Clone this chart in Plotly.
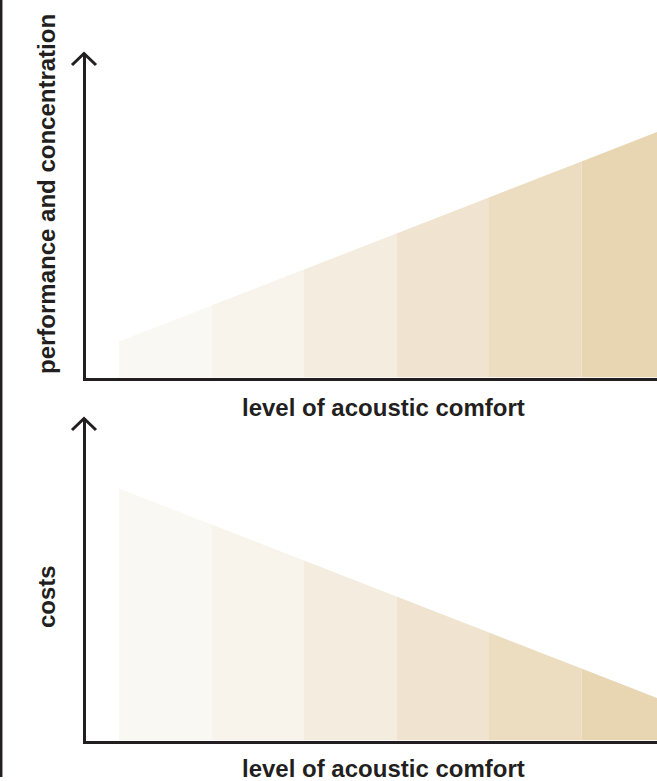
import plotly.graph_objects as go
from plotly.subplots import make_subplots

# ---- data ----
levels = [0, 1, 2, 3, 4, 5, 6]                      # acoustic comfort level boundaries
performance = [1.0, 2.0, 3.0, 4.0, 5.0, 6.0, 7.0]   # performance & concentration at each boundary
costs = [7.0, 6.0, 5.0, 4.0, 3.0, 2.0, 1.0]         # costs at each boundary
shades = ["#FAF8F3", "#F8F4EC", "#F4ECDF", "#F0E4D0", "#ECDDC1", "#E8D6B3"]
x_label = "level of acoustic comfort"
y_label_top = "performance and concentration"
y_label_bottom = "costs"

W, H = 657, 781
INK = "#231F20"
FONT = "Liberation Sans, Arial, sans-serif"

fig = make_subplots(rows=2, cols=1)

def add_segments(values, row):
    for i in range(len(levels) - 1):
        x0, x1 = levels[i], levels[i + 1]
        fig.add_trace(go.Scatter(
            x=[x0, x0, x1, x1, x0],
            y=[0, values[i], values[i + 1], 0, 0],
            mode="lines", fill="toself", fillcolor=shades[i],
            line=dict(width=0, color=shades[i]),
            hoverinfo="skip", showlegend=False), row=row, col=1)

add_segments(performance, 1)
add_segments(costs, 2)

# pixel geometry -> axis ranges
px_unit_x = 92.5
x0_px = 119.0
axis_left_px = 85.5
xmin = (axis_left_px - x0_px) / px_unit_x
xmax = (W - x0_px) / px_unit_x
px_unit_y = 36.0

top_base, top_tip = 377.5, 53.0
bot_base, bot_tip = 740.5, 418.0

def pdom(base, tip):
    return [1 - base / H, 1 - tip / H]

axis_common = dict(showgrid=False, zeroline=False, showticklabels=False, ticks="",
                   showline=True, linecolor=INK, linewidth=3, fixedrange=True)
fig.update_layout(
    xaxis=dict(domain=[axis_left_px / W, 1], range=[xmin, xmax], **axis_common),
    yaxis=dict(domain=pdom(top_base, top_tip), range=[0, (top_base - top_tip) / px_unit_y], **axis_common),
    xaxis2=dict(domain=[axis_left_px / W, 1], range=[xmin, xmax], **axis_common),
    yaxis2=dict(domain=pdom(bot_base, bot_tip), range=[0, (bot_base - bot_tip) / px_unit_y], **axis_common),
)

def px(xp, yp):
    return f"{xp / W:.5f},{1 - yp / H:.5f}"

shapes = []
# arrow heads (pixel geometry converted to paper coords)
for tip in (top_tip, bot_tip):
    cx = 84.0
    path = f"M {px(cx - 12, tip + 12)} L {px(cx, tip + 0.5)} L {px(cx + 12, tip + 12)}"
    shapes.append(dict(type="path", xref="paper", yref="paper", path=path,
                       line=dict(color=INK, width=3)))
# left border line
shapes.append(dict(type="line", xref="paper", yref="paper",
                   x0=1.2 / W, x1=1.2 / W, y0=1 - 777 / H, y1=1,
                   line=dict(color=INK, width=2.5)))

annotations = [
    dict(text=x_label, x=383 / W, y=1 - 407 / H),
    dict(text=x_label, x=383 / W, y=1 - 768 / H),
    dict(text=y_label_top, x=46 / W, y=1 - 194 / H, textangle=-90),
    dict(text=y_label_bottom, x=46 / W, y=1 - 597 / H, textangle=-90),
]
for a in annotations:
    a.update(xref="paper", yref="paper", showarrow=False, xanchor="center", yanchor="middle",
             font=dict(family=FONT, size=24, color=INK, weight="bold"))

fig.update_layout(
    width=W, height=H, margin=dict(l=0, r=0, t=0, b=0),
    paper_bgcolor="white", plot_bgcolor="white",
    shapes=shapes, annotations=annotations, showlegend=False,
    font=dict(family=FONT, color=INK),
)

fig.write_html("out.html", config={"displayModeBar": False},
               post_script="document.body.style.margin='0';document.body.style.padding='0';")
